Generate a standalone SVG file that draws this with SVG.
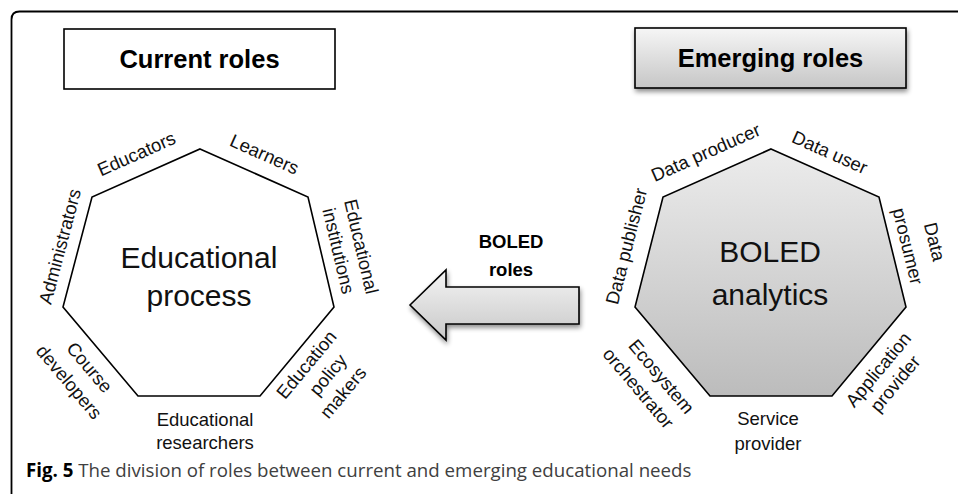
<svg xmlns="http://www.w3.org/2000/svg" width="958" height="494" viewBox="0 0 958 494">
<defs>
<linearGradient id="gBox" x1="0" y1="0" x2="0" y2="1"><stop offset="0" stop-color="#f6f6f6"/><stop offset="1" stop-color="#c6c6c6"/></linearGradient>
<linearGradient id="gHep" x1="0" y1="0" x2="0" y2="1"><stop offset="0" stop-color="#ececec"/><stop offset="1" stop-color="#bcbcbc"/></linearGradient>
<linearGradient id="gArrow" x1="0" y1="0" x2="0" y2="1"><stop offset="0" stop-color="#f4f4f4"/><stop offset="1" stop-color="#c8c8c8"/></linearGradient>
<filter id="shadow" x="-10%" y="-10%" width="130%" height="140%">
<feGaussianBlur in="SourceAlpha" stdDeviation="2.5"/>
<feOffset dx="1" dy="3" result="b"/>
<feComponentTransfer><feFuncA type="linear" slope="0.45"/></feComponentTransfer>
<feMerge><feMergeNode/><feMergeNode in="SourceGraphic"/></feMerge>
</filter>
</defs>
<style>
.ln{fill:none;stroke:#000;stroke-width:1.8}
.box{stroke:#000;stroke-width:1.6}
.lbl{font-family:"Liberation Sans",Arial,sans-serif;font-size:18.5px;fill:#111;text-anchor:middle}
.ttl{font-family:"Liberation Sans",Arial,sans-serif;font-size:25.5px;font-weight:bold;fill:#000;text-anchor:middle}
.big{font-family:"Liberation Sans",Arial,sans-serif;font-size:30px;fill:#111;text-anchor:middle}
.bold{font-family:"Liberation Sans",Arial,sans-serif;font-size:18.5px;font-weight:bold;fill:#000;text-anchor:middle}
.cap{font-family:"Open Sans","Liberation Sans",sans-serif;font-size:18.7px;fill:#404040}
</style>
<rect width="958" height="494" fill="#fff"/>
<path class="ln" d="M11.5 494 L11.5 19.5 Q11.5 11.5 19.5 11.5 L958 11.5"/>

<g id="current-roles">
<rect class="box" x="64" y="29" width="271" height="60" fill="#fff"/>
<text class="ttl" x="199.5" y="68">Current roles</text>
</g>

<g id="emerging-roles">
<rect class="box" x="635" y="28" width="271" height="60" fill="url(#gBox)" filter="url(#shadow)"/>
<text class="ttl" x="770.5" y="67">Emerging roles</text>
</g>

<g id="educational-process">
<polygon class="box" points="200,149 308,197 334,307 260,396 138,396 63,307 92,197" fill="#fff"/>
<text class="big" x="199" y="268">Educational</text>
<text class="big" x="199" y="306">process</text>
<g transform="translate(146,173) rotate(-23.96)"><text class="lbl" x="-1" y="-15">Educators</text></g>
<g transform="translate(254,173) rotate(23.96)"><text class="lbl" x="2" y="-15">Learners</text></g>
<g transform="translate(77.5,252) rotate(-75.23)"><text class="lbl" x="1" y="-12">Administrators</text></g>
<g transform="translate(321,252) rotate(76.7)"><text class="lbl" x="4" y="-34">Educational</text><text class="lbl" x="3" y="-11">institutions</text></g>
<g transform="translate(100.5,351.5) rotate(49.88)"><text class="lbl" x="5" y="25">Course</text><text class="lbl" x="3" y="50">developers</text></g>
<g transform="translate(297,351.5) rotate(-50.26)"><text class="lbl" x="-4" y="22">Education</text><text class="lbl" x="2" y="45">policy</text><text class="lbl" x="-2" y="68">makers</text></g>
<text class="lbl" x="205" y="426">Educational</text>
<text class="lbl" x="205" y="449">researchers</text>
</g>

<g id="boled-analytics">
<polygon class="box" points="771,149 879,197 906,307 832,396 710,396 635,307 663,197" fill="url(#gHep)"/>
<text class="big" x="770" y="262">BOLED</text>
<text class="big" x="770" y="305">analytics</text>
<g transform="translate(717,173) rotate(-23.96)"><text class="lbl" x="-2" y="-17">Data producer</text></g>
<g transform="translate(825,173) rotate(23.96)"><text class="lbl" x="-4" y="-14.5">Data user</text></g>
<g transform="translate(649,252) rotate(-75.7)"><text class="lbl" x="0" y="-17">Data publisher</text></g>
<g transform="translate(892.5,252) rotate(76.2)"><text class="lbl" x="0" y="-37">Data</text><text class="lbl" x="-2" y="-10">prosumer</text></g>
<g transform="translate(672.5,351.5) rotate(49.88)"><text class="lbl" x="12" y="31">Ecosystem</text><text class="lbl" x="6" y="56">orchestrator</text></g>
<g transform="translate(869,351.5) rotate(-50.26)"><text class="lbl" x="-8" y="25">Application</text><text class="lbl" x="-8" y="47">provider</text></g>
<text class="lbl" x="768" y="425">Service</text>
<text class="lbl" x="768" y="450">provider</text>
</g>

<g id="connectors">
<g id="boled-roles-arrow">
<polygon class="box" points="410,305 446,270 446,287 579,287 579,324 446,324 446,340" fill="url(#gArrow)" filter="url(#shadow)"/>
<text class="bold" x="511" y="248">BOLED</text>
<text class="bold" x="511" y="276">roles</text>
</g>
</g>

<text class="cap" x="26" y="477"><tspan font-weight="bold" fill="#000">Fig. 5</tspan> The division of roles between current and emerging educational needs</text>
</svg>
